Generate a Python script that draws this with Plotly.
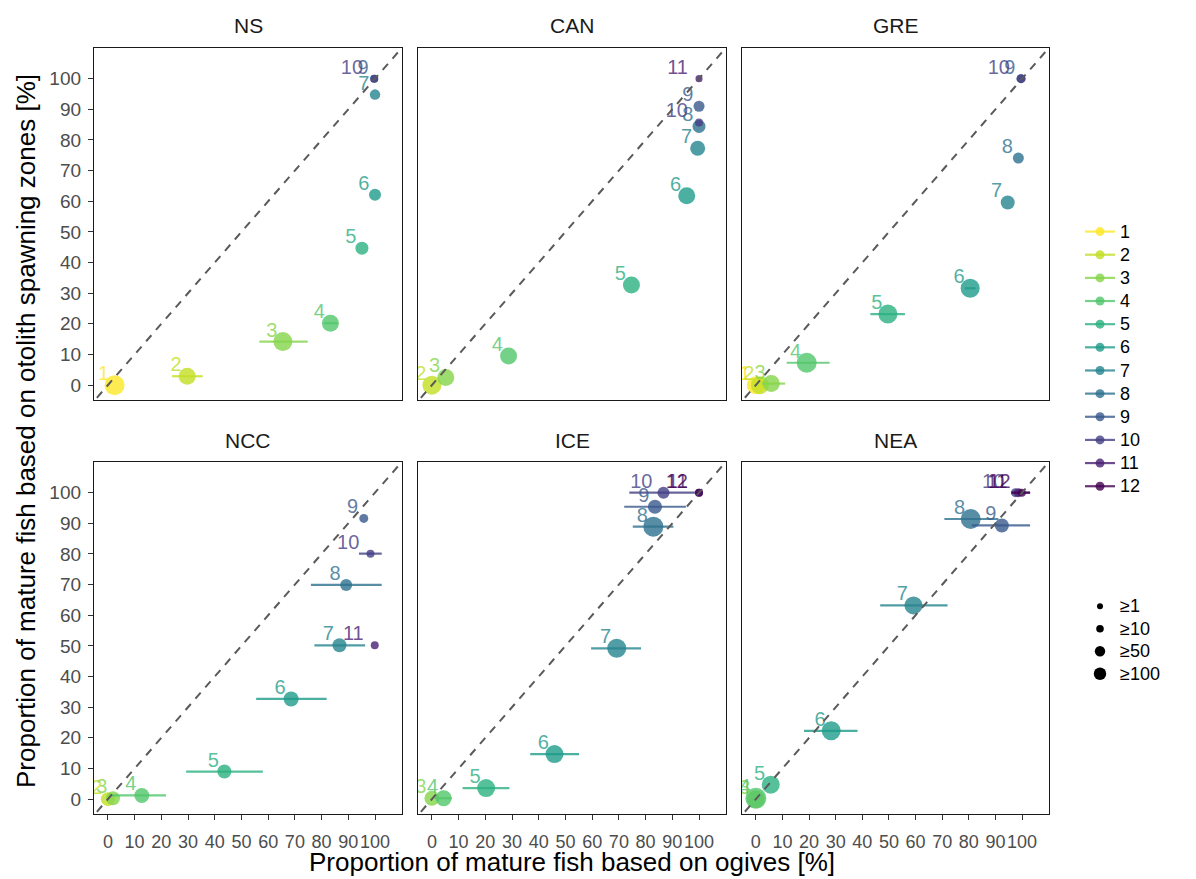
import math
import plotly.graph_objects as go

W, H = 1196, 879

PANELS = ["NS", "CAN", "GRE", "NCC", "ICE", "NEA"]
AGE_COLORS = ["#FDE725", "#C2DF23", "#85D54A", "#51C56A", "#2BB07F", "#1E9B8A",
              "#25858E", "#2D708E", "#38598C", "#433E85", "#482173", "#440154"]
AGE_LEVELS = list(range(1, 13))
TICKS = list(range(0, 101, 10))
SIZE_BREAKS = [1, 10, 50, 100]
SIZE_LABELS = ["≥1", "≥10", "≥50", "≥100"]
X_TITLE = "Proportion of mature fish based on ogives [%]"
Y_TITLE = "Proportion of mature fish based on otolith spawning zones [%]"

# ---- data per panel: age, ogive %, otolith %, ogive CI low/high, sample size ----
NS_age = [1, 2, 3, 4, 5, 6, 7, 9, 10]
NS_ogive = [2.5, 29.7, 65.5, 83.3, 95.1, 100, 100, 99.7, 99.7]
NS_otolith = [0, 2.9, 14.2, 20.2, 44.7, 62.1, 94.8, 100, 100]
NS_lo = [2.5, 24.0, 56.7, 81.0, 95.1, 100, 100, 99.7, 99.7]
NS_hi = [2.5, 35.5, 74.8, 86.0, 95.1, 100, 100, 99.7, 99.7]
NS_n = [417, 264, 362, 264, 114, 87, 52, 14, 14]

CAN_age = [2, 3, 4, 5, 6, 7, 8, 9, 10, 11]
CAN_ogive = [0, 5.2, 28.7, 74.7, 95.4, 99.5, 100, 100, 100, 100]
CAN_otolith = [0, 2.5, 9.5, 32.7, 61.8, 77.3, 84.4, 91.0, 85.7, 100]
CAN_lo = [0, 5.2, 28.7, 74.7, 95.4, 99.5, 100, 100, 100, 100]
CAN_hi = [0, 5.2, 28.7, 74.7, 95.4, 99.5, 100, 100, 100, 100]
CAN_n = [362, 264, 264, 264, 264, 181, 114, 63, 14, 6]

GRE_age = [1, 2, 3, 4, 5, 6, 7, 8, 9, 10]
GRE_ogive = [0, 1.5, 5.8, 19.1, 49.6, 80.5, 94.6, 98.6, 99.6, 99.6]
GRE_otolith = [0, 0, 0.5, 7.3, 23.2, 31.6, 59.6, 74.1, 100, 100]
GRE_lo = [0, 1.5, 2.3, 11.6, 43.0, 78.5, 94.6, 98.6, 99.6, 99.6]
GRE_hi = [0, 1.5, 11.0, 27.7, 56.0, 82.5, 94.6, 98.6, 99.6, 99.6]
GRE_n = [311, 311, 264, 417, 362, 362, 146, 63, 26, 26]

NCC_age = [2, 3, 4, 5, 6, 7, 8, 9, 10, 11]
NCC_ogive = [0, 1.9, 12.7, 43.6, 68.6, 86.7, 89.2, 95.8, 98.3, 99.9]
NCC_otolith = [0, 0.3, 1.2, 9.0, 32.7, 50.2, 69.9, 91.6, 80.1, 50.2]
NCC_lo = [0, 1.9, 0.6, 29.3, 55.5, 77.3, 76.0, 95.8, 94.0, 99.9]
NCC_hi = [0, 1.9, 21.8, 58.0, 81.9, 96.3, 102.5, 95.8, 102.5, 99.9]
NCC_n = [146, 146, 181, 146, 181, 146, 87, 26, 14, 14]

ICE_age = [3, 4, 5, 6, 7, 8, 9, 10, 11, 12]
ICE_ogive = [0, 4.4, 20.3, 45.9, 69.2, 82.9, 83.5, 86.7, 100, 100]
ICE_otolith = [0.3, 0.3, 3.6, 14.7, 49.2, 88.9, 95.4, 100, 100, 100]
ICE_lo = [0, 1.2, 11.5, 36.8, 59.6, 75.2, 72.0, 73.9, 100, 100]
ICE_hi = [0, 7.5, 29.0, 55.1, 78.3, 90.4, 95.1, 100.4, 100, 100]
ICE_n = [181, 221, 311, 311, 362, 417, 146, 87, 14, 14]

NEA_age = [3, 4, 5, 6, 7, 8, 9, 10, 11, 12]
NEA_ogive = [0, 0, 5.6, 28.3, 59.2, 80.7, 92.4, 97.5, 98.6, 99.9]
NEA_otolith = [0, 0.3, 4.7, 22.3, 63.2, 91.4, 89.3, 100, 100, 100]
NEA_lo = [0, 0, 5.6, 18.1, 46.7, 70.8, 81.1, 97.5, 96.0, 96.0]
NEA_hi = [0, 0, 5.6, 38.2, 72.0, 91.1, 103.0, 97.5, 103.0, 103.0]
NEA_n = [311, 475, 311, 362, 311, 417, 146, 26, 26, 14]

PANEL_DATA = {
    "NS": (NS_age, NS_ogive, NS_otolith, NS_lo, NS_hi, NS_n),
    "CAN": (CAN_age, CAN_ogive, CAN_otolith, CAN_lo, CAN_hi, CAN_n),
    "GRE": (GRE_age, GRE_ogive, GRE_otolith, GRE_lo, GRE_hi, GRE_n),
    "NCC": (NCC_age, NCC_ogive, NCC_otolith, NCC_lo, NCC_hi, NCC_n),
    "ICE": (ICE_age, ICE_ogive, ICE_otolith, ICE_lo, ICE_hi, ICE_n),
    "NEA": (NEA_age, NEA_ogive, NEA_otolith, NEA_lo, NEA_hi, NEA_n),
}

FONT = "Liberation Sans, Arial, sans-serif"
ALPHA = 0.8


def rgba(hexcol, a=ALPHA):
    h = hexcol.lstrip("#")
    return "rgba(%d,%d,%d,%.2f)" % (int(h[0:2], 16), int(h[2:4], 16), int(h[4:6], 16), a)


def diam(n):
    # size scale: diameter linear in sqrt(n)
    return 5.3 + 0.72 * math.sqrt(n)


def big(label):
    return '<span style="font-size:18px">%s</span>' % label


# panel pixel boxes
COL_X = [(94, 402), (418, 726), (742, 1049)]
ROW_Y = [(48, 400), (462, 814)]
XR = [-5.2, 110.1]
YR = [-4.85, 110.0]

fig = go.Figure()
layout = dict()

for i, panel in enumerate(PANELS):
    k = i + 1
    r, c = divmod(i, 3)
    x0, x1 = COL_X[c]
    y0, y1 = ROW_Y[r]
    xa = "xaxis" if k == 1 else "xaxis%d" % k
    ya = "yaxis" if k == 1 else "yaxis%d" % k
    xref = "x" if k == 1 else "x%d" % k
    yref = "y" if k == 1 else "y%d" % k
    bottom = r == 1
    left = c == 0
    layout[xa] = dict(
        domain=[x0 / W, x1 / W], range=XR, anchor=yref,
        showgrid=False, zeroline=False,
        showline=True, mirror=True, linecolor="#1a1a1a", linewidth=1.3,
        tickvals=TICKS if bottom else [], ticks="outside" if bottom else "",
        ticklen=5, tickwidth=1.1, tickcolor="#333333",
        showticklabels=bottom, tickangle=0, ticklabelstandoff=6,
        tickfont=dict(family=FONT, size=18, color="#4D4D4D"),
    )
    layout[ya] = dict(
        domain=[1 - y1 / H, 1 - y0 / H], range=YR, anchor=xref,
        showgrid=False, zeroline=False,
        showline=True, mirror=True, linecolor="#1a1a1a", linewidth=1.3,
        tickvals=TICKS if left else [], ticks="outside" if left else "",
        ticklen=5, tickwidth=1.1, tickcolor="#333333",
        showticklabels=left, ticklabelstandoff=3,
        tickfont=dict(family=FONT, size=19, color="#4D4D4D"),
    )

    age, og, ot, lo, hi, n = PANEL_DATA[panel]
    for j in range(len(age)):
        col = AGE_COLORS[age[j] - 1]
        fig.add_trace(go.Scatter(
            x=[og[j]], y=[ot[j]], mode="markers", xaxis=xref, yaxis=yref,
            marker=dict(color=rgba(col), size=diam(n[j]), line=dict(width=0)),
            error_x=dict(type="data", symmetric=False,
                         array=[hi[j] - og[j]], arrayminus=[og[j] - lo[j]],
                         color=rgba(col), thickness=2.2, width=0),
            showlegend=False, hoverinfo="skip", cliponaxis=True,
        ))
    # age labels
    labels = [str(a) + ("\u00a0\u00a0" if a >= 10 else "\u00a0") for a in age]
    fig.add_trace(go.Scatter(
        x=og, y=ot, mode="text", xaxis=xref, yaxis=yref,
        text=labels, textposition="top left",
        textfont=dict(family=FONT, size=20, color=[rgba(AGE_COLORS[a - 1]) for a in age]),
        showlegend=False, hoverinfo="skip", cliponaxis=True,
    ))
    # 1:1 dashed line
    fig.add_trace(go.Scatter(
        x=[XR[0] - 10, XR[1] + 10], y=[XR[0] - 10, XR[1] + 10], mode="lines",
        xaxis=xref, yaxis=yref,
        line=dict(color="#5a5a5a", width=2, dash="8px,7px"),
        showlegend=False, hoverinfo="skip",
    ))

# colour legend (age)
for a in AGE_LEVELS:
    col = AGE_COLORS[a - 1]
    fig.add_trace(go.Scatter(
        x=[None], y=[None], mode="lines+markers", name=big(str(a)),
        line=dict(color=rgba(col), width=2.2),
        marker=dict(color=rgba(col), size=9),
        legend="legend", showlegend=True,
    ))
# size legend
for b, lab in zip(SIZE_BREAKS, SIZE_LABELS):
    fig.add_trace(go.Scatter(
        x=[None], y=[None], mode="markers", name=big(lab),
        marker=dict(color="black", size=diam(b)),
        legend="legend2", showlegend=True,
    ))

annotations = []
for i, panel in enumerate(PANELS):
    r, c = divmod(i, 3)
    x0, x1 = COL_X[c]
    y0, _ = ROW_Y[r]
    annotations.append(dict(
        text=panel, xref="paper", yref="paper",
        x=(x0 + x1) / 2 / W, y=1 - (y0 - 22) / H,
        xanchor="center", yanchor="middle", showarrow=False,
        font=dict(family=FONT, size=21, color="#1A1A1A"),
    ))
annotations.append(dict(
    text=X_TITLE, xref="paper", yref="paper",
    x=(COL_X[0][0] + COL_X[2][1]) / 2 / W, y=1 - 862 / H,
    xanchor="center", yanchor="middle", showarrow=False,
    font=dict(family=FONT, size=26, color="black"),
))
annotations.append(dict(
    text=Y_TITLE, xref="paper", yref="paper",
    x=26 / W, y=1 - (ROW_Y[0][0] + ROW_Y[1][1]) / 2 / H,
    xanchor="center", yanchor="middle", showarrow=False, textangle=-90,
    font=dict(family=FONT, size=26, color="black"),
))

layout.update(dict(
    width=W, height=H,
    margin=dict(l=0, r=0, t=0, b=0),
    paper_bgcolor="white", plot_bgcolor="white",
    font=dict(family=FONT, color="black"),
    annotations=annotations,
    legend=dict(x=1080 / W, y=1 - 215 / H, xanchor="left", yanchor="top",
                font=dict(family=FONT, size=15.5, color="black"),
                bgcolor="rgba(0,0,0,0)", tracegroupgap=0, itemsizing="trace"),
    legend2=dict(x=1080 / W, y=1 - 590 / H, xanchor="left", yanchor="top",
                 font=dict(family=FONT, size=15, color="black"),
                 bgcolor="rgba(0,0,0,0)", tracegroupgap=0, itemsizing="trace"),
    showlegend=True,
))
fig.update_layout(**layout)

fig.write_html("out.html", config={"displayModeBar": False},
               post_script="document.body.style.margin='0';")
